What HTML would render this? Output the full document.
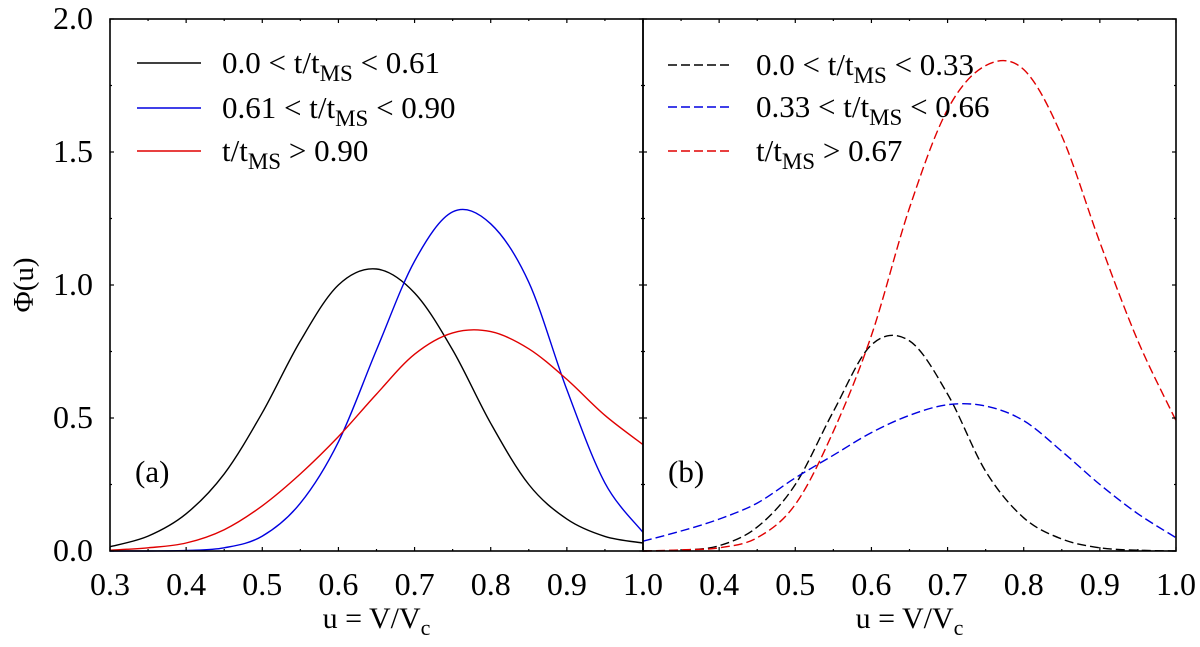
<!DOCTYPE html>
<html><head><meta charset="utf-8"><style>
body{margin:0;background:#fff}
svg, svg text, svg tspan{font-family:"Liberation Serif","Times New Roman",serif}
</style></head><body>
<svg id="chart" width="1200" height="642" viewBox="0 0 1200 642" xmlns="http://www.w3.org/2000/svg" font-family="Liberation Serif, serif"></svg>
<script>
const uVals=[0.3,0.35,0.4,0.45,0.5,0.55,0.6,0.65,0.7,0.75,0.8,0.85,0.9,0.95,1.0];
const aBlack=[0.016,0.056,0.14,0.29,0.52,0.79,1.0,1.06,0.97,0.756,0.48,0.25,0.12,0.055,0.03];
const aBlue=[0,0,0.002,0.012,0.056,0.18,0.41,0.756,1.09,1.275,1.23,1.01,0.606,0.256,0.07];
const aRed=[0.003,0.012,0.03,0.08,0.17,0.29,0.43,0.59,0.74,0.82,0.825,0.76,0.645,0.51,0.40];
const bBlack=[0,0.003,0.02,0.09,0.25,0.525,0.775,0.79,0.59,0.30,0.125,0.045,0.012,0.003,0];
const bBlue=[0.037,0.075,0.12,0.18,0.275,0.36,0.445,0.51,0.55,0.545,0.49,0.375,0.25,0.14,0.05];
const bRed=[0,0.004,0.012,0.05,0.175,0.45,0.81,1.29,1.66,1.825,1.81,1.56,1.16,0.79,0.49];
const xTicks=["0.3","0.4","0.5","0.6","0.7","0.8","0.9","1.0"];
const yTicks=["0.0","0.5","1.0","1.5","2.0"];
const legA=["0.0 < t/t|MS| < 0.61","0.61 < t/t|MS| < 0.90","t/t|MS| > 0.90"];
const legB=["0.0 < t/t|MS| < 0.33","0.33 < t/t|MS| < 0.66","t/t|MS| > 0.67"];

const svg=document.getElementById('chart');
const NS='http://www.w3.org/2000/svg';
const FF='Liberation Serif, Times New Roman, serif';
const Y0=551,Y1=19;
const panels=[{x0:110,x1:643},{x0:643,x1:1176}];
function sy(v){return Y0-(v/2)*(Y0-Y1);}
function sx(p,u){return p.x0+(u-0.3)/0.7*(p.x1-p.x0);}
function mk(tag,attrs,parent){const e=document.createElementNS(NS,tag);for(const k in attrs)e.setAttribute(k,attrs[k]);if(tag==='text')e.setAttribute('font-family',FF);(parent||svg).appendChild(e);return e;}
function smooth(pts){let d='M'+pts[0][0]+','+pts[0][1];for(let i=0;i<pts.length-1;i++){const p0=pts[i-1]||pts[i],p1=pts[i],p2=pts[i+1],p3=pts[i+2]||p2;
const c1x=p1[0]+(p2[0]-p0[0])/6,c1y=p1[1]+(p2[1]-p0[1])/6,c2x=p2[0]-(p3[0]-p1[0])/6,c2y=p2[1]-(p3[1]-p1[1])/6;
d+=`C${c1x.toFixed(1)},${Math.min(c1y,Y0).toFixed(1)} ${c2x.toFixed(1)},${Math.min(c2y,Y0).toFixed(1)} ${p2[0].toFixed(1)},${p2[1].toFixed(1)}`;}return d;}
function legendText(g,str,x,y){const parts=str.split('|');const t=mk('text',{x:x,y:y,'font-size':31},g);
t.appendChild(document.createTextNode(parts[0]));const s=mk('tspan',{dy:8,'font-size':23},t);s.textContent=parts[1];const r=mk('tspan',{dy:-8},t);r.textContent=parts[2];return t;}

const seriesSets=[[aBlack,aBlue,aRed],[bBlack,bBlue,bRed]];
const colors=['#000','#0000e0','#e00000'];
const names=['black','blue','red'];
panels.forEach((p,pi)=>{
  const g=mk('g',{});
  
  
  seriesSets[pi].forEach((s,si)=>{
    const pts=uVals.map((u,i)=>[sx(p,u),sy(s[i])]);
    const path=mk('path',{d:smooth(pts),fill:'none',stroke:colors[si],'stroke-width':1.4},g);
    if(pi)path.setAttribute('stroke-dasharray','9,4');
    
    
  });
  const fr=mk('rect',{x:p.x0,y:Y1,width:p.x1-p.x0,height:Y0-Y1,fill:'none',stroke:'#000','stroke-width':1.6},g);
  
  
  for(let k=0;k<=14;k++){const u=0.3+k*0.05,x=sx(p,u),L=k%2?2:4;
    mk('line',{x1:x,x2:x,y1:Y0,y2:Y0-L,stroke:'#000','stroke-width':1.2},g);
    mk('line',{x1:x,x2:x,y1:Y1,y2:Y1+L,stroke:'#000','stroke-width':1.2},g);}
  for(let k=0;k<=8;k++){const y=sy(k*0.25),L=k%2?2:4;
    mk('line',{x1:p.x0,x2:p.x0+L,y1:y,y2:y,stroke:'#000','stroke-width':1.2},g);
    mk('line',{x1:p.x1,x2:p.x1-L,y1:y,y2:y,stroke:'#000','stroke-width':1.2},g);}
  xTicks.forEach((lab,i)=>{const t=mk('text',{x:sx(p,0.3+i*0.1),y:595,'font-size':32,'text-anchor':'middle'},g);t.textContent=(pi&&i==0)?'':lab;
    
    });
  const xt=mk('text',{x:(p.x0+p.x1)/2,y:628,'font-size':30,'text-anchor':'middle'},g);
  
  
  xt.appendChild(document.createTextNode('u = V/V'));const sc=mk('tspan',{dy:7,'font-size':22},xt);sc.textContent='c';
  const leg=pi?legB:legA;const lx=pi?668:137,tx=pi?756:222,ly=pi?[65,107,151]:[63,108,151];
  leg.forEach((str,i)=>{const l=mk('line',{x1:lx,x2:lx+64,y1:ly[i],y2:ly[i],stroke:colors[i],'stroke-width':1.4},g);
    if(pi)l.setAttribute('stroke-dasharray','9,4');
    
    
    const t=legendText(g,str,tx,ly[i]+10);
    
    });
  const pl=mk('text',{x:pi?668:135,y:482,'font-size':31},g);pl.textContent=pi?'(b)':'(a)';
  
  
});
yTicks.forEach((lab,i)=>{const t=mk('text',{x:93,y:sy(i*0.5)+10,'font-size':32,'text-anchor':'end'});t.textContent=lab;
  
  });
const yt=mk('text',{x:0,y:0,'font-size':29,'text-anchor':'middle',transform:'translate(33,285) rotate(-90)'});
yt.textContent='Φ(u)';


</script>
</body></html>
